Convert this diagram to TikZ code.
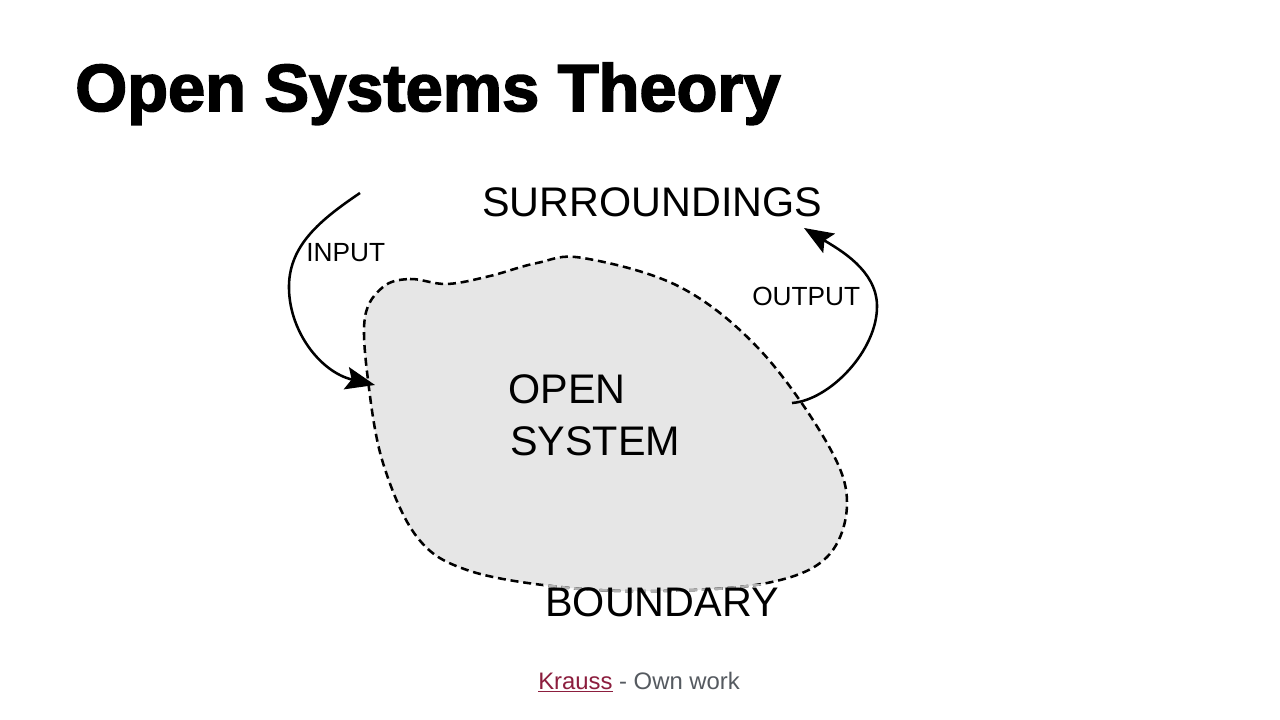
\documentclass[tikz,border=0pt]{standalone}
\usepackage{fontspec}
\usepackage{graphicx}
\setmainfont{Liberation Sans}
\newfontfamily\titlefont{Liberation Sans}[BoldFeatures={FakeBold=2.5}]
\usetikzlibrary{arrows.meta}
\definecolor{blobfill}{RGB}{230,230,230}
\definecolor{linkred}{RGB}{140,30,62}
\definecolor{footgray}{RGB}{85,90,96}
\tikzset{
  lbl/.style={inner sep=0pt, anchor=base west, text=black},
  biglbl/.style={lbl, font=\fontsize{31}{36}\selectfont},
  smalllbl/.style={lbl, font=\fontsize{19.7}{23}\selectfont},
  flow/.style={line width=1.9pt, -{Stealth[length=22pt,width=17pt,inset=4pt]}},
  bound/.style={line width=1.9pt, dash pattern=on 6pt off 3.6pt},
}
\def\blobpath{plot[smooth cycle, tension=0.6] coordinates {(383,287) (410,279) (447,284) (490,276) (537,263) (583,258) (680,287) (760,350) (827,443) (847,503) (827,557) (767,583) (660,591) (560,587) (467,570) (417,537) (383,463) (368,380) (365,317)}}
\begin{document}
\begin{tikzpicture}[x=0.75pt,y=-0.75pt]
\useasboundingbox (0,0) rectangle (1280,720);
\fill[white] (0,0) rectangle (1280,720);
% title
\node[lbl] (title) at (75,111) {\resizebox{529pt}{\height}{\titlefont\bfseries\fontsize{50}{60}\selectfont Open Systems Theory}};
% blob
\fill[blobfill] \blobpath;
\draw[bound] \blobpath;
\begin{scope}
  \clip (543,584) rectangle (792,625);
  \draw[bound, draw=black!30] \blobpath;
\end{scope}
% labels
\node[biglbl] (surr) at (482,217) {SURROUNDINGS};
\node[smalllbl] (input) at (306,261) {INPUT};
\node[smalllbl] (output) at (752,305.5) {OUTPUT};
\node[biglbl] (open) at (508,403) {OPEN};
\node[biglbl] (system) at (510,455) {SYSTEM};
\node[biglbl] (boundary) at (545,616) {BOUNDARY};
\node[lbl, font=\fontsize{17.9}{21}\selectfont] (foot) at (538,689) {\textcolor{linkred}{\underline{Krauss}}\textcolor{footgray}{\ - Own work}};
% arrows
\coordinate (inS) at (360,193);
\coordinate (inE) at (375,385);
\coordinate (outS) at (792,403);
\coordinate (outE) at (804,228);
\draw[flow] (inS) .. controls (320,220) and (290,245) .. (289,285) .. controls (288,330) and (320,372) .. (inE);
\draw[flow] (outS) .. controls (830,400) and (878,350) .. (877,305) .. controls (876,270) and (840,250) .. (outE);
\end{tikzpicture}
\end{document}
